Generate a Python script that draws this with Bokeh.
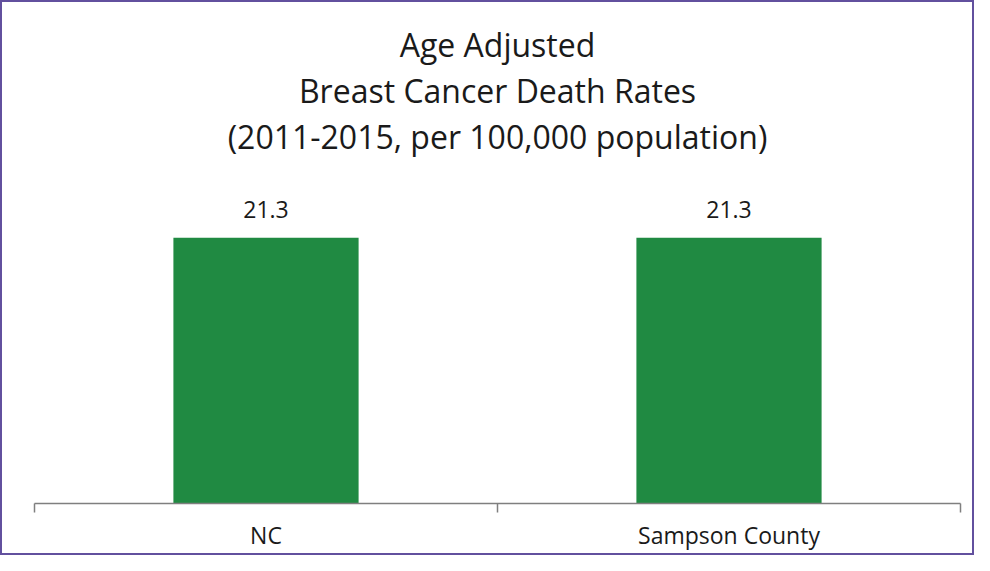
import numpy as np
from bokeh.plotting import figure
from bokeh.models import ColumnDataSource, LabelSet, FixedTicker, Range1d, Title
from bokeh.core.properties import value
from bokeh.embed import file_html
from bokeh.resources import INLINE

categories = ["NC", "Sampson County"]
rates = [21.3, 21.3]
rate_labels = ["21.3", "21.3"]
title_lines = ["Age Adjusted", "Breast Cancer Death Rates", "(2011-2015, per 100,000 population)"]

FONT = "Open Sans"
TEXT = "#1a1a1a"

xpos = np.arange(len(categories)) + 0.5
src = ColumnDataSource(dict(x=xpos, top=rates, lab=rate_labels))

p = figure(width=974, height=555, output_backend="svg", toolbar_location=None,
           x_range=Range1d(0, len(categories)), y_range=Range1d(0, 27.65),
           min_border_left=32, min_border_right=16, min_border_top=156, min_border_bottom=54)
p.styles = {"border": "2px solid #62509e", "box-sizing": "border-box"}

# first added sits nearest the plot frame
for line in reversed(title_lines):
    t = Title(text=line, align="center", text_font=FONT, text_font_style="normal",
              text_font_size="32px", text_color=TEXT, standoff=1)
    p.add_layout(t, "above")

p.vbar(x="x", top="top", width=0.4, bottom=0, source=src,
       fill_color="#208a42", line_color=None)

labels = LabelSet(x="x", y="top", text="lab", source=src, y_offset=20,
                  text_align="center", text_baseline="alphabetic",
                  text_font=value(FONT), text_font_size="23px", text_color=TEXT)
p.add_layout(labels)

p.yaxis.visible = False
p.grid.visible = False
p.outline_line_color = None

ax = p.xaxis[0]
ax.ticker = FixedTicker(ticks=list(xpos), minor_ticks=list(np.arange(len(categories) + 1)))
ax.major_label_overrides = {float(x): c for x, c in zip(xpos, categories)}
ax.major_tick_out = 0
ax.major_tick_in = 0
ax.minor_tick_out = 9
ax.minor_tick_in = 0
ax.minor_tick_line_color = "#7f7f7f"
ax.minor_tick_line_width = 1.5
ax.axis_line_color = "#7f7f7f"
ax.axis_line_width = 1.5
ax.major_label_text_font = FONT
ax.major_label_text_font_size = "23px"
ax.major_label_text_color = TEXT
ax.major_label_standoff = 6

open("out.html", "w").write(file_html(p, INLINE))
